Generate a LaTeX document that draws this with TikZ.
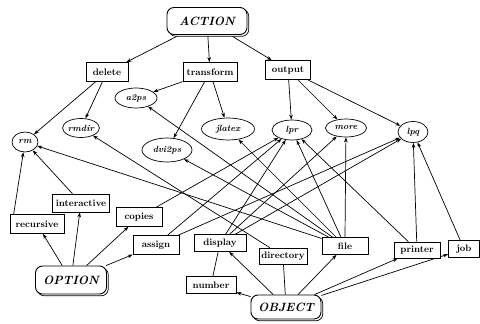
\documentclass[tikz,border=0pt]{standalone}
\usetikzlibrary{arrows.meta,shapes.geometric,shadows,backgrounds}
\begin{document}
\begin{tikzpicture}[x=1pt,y=-1pt,
  every path/.style={line width=0.7pt},
  arr/.style={-{Stealth[length=5pt,width=3.6pt]}},
  plain/.style={-},
  big/.style={draw,rounded corners=7pt,fill=white,line width=0.9pt,
    copy shadow={shadow xshift=1.8pt,shadow yshift=-1.8pt},
    inner sep=0pt,font=\fontsize{12}{14}\selectfont\bfseries\itshape},
  box/.style={draw,fill=white,inner sep=0pt,font=\fontsize{9.5}{10}\selectfont\bfseries},
  ell/.style={draw,ellipse,fill=white,inner sep=0pt,font=\fontsize{9}{10}\selectfont\bfseries\itshape}]
\useasboundingbox (0,0) rectangle (480,324);
% top-level
\node[big,minimum width=80pt,minimum height=27pt] (action) at (207,21) {ACTION};
\node[big,minimum width=71pt,minimum height=28pt] (option) at (71,280) {OPTION};
\node[big,minimum width=70pt,minimum height=24pt] (object) at (286,307) {OBJECT};
% actions
\node[box,minimum width=42pt,minimum height=19pt] (delete) at (107,72) {delete};
\node[box,minimum width=54pt,minimum height=19pt] (transform) at (210,72) {transform};
\node[box,minimum width=45pt,minimum height=19pt] (output) at (288,70) {output};
% commands
\node[ell,minimum width=26pt,minimum height=20pt] (rm) at (25,142) {rm};
\node[ell,minimum width=35pt,minimum height=19pt] (rmdir) at (81,128) {rmdir};
\node[ell,minimum width=42pt,minimum height=20pt] (a2ps) at (136,98) {a2ps};
\node[ell,minimum width=50pt,minimum height=24pt] (dvi2ps) at (167,150) {dvi2ps};
\node[ell,minimum width=53pt,minimum height=22pt] (jlatex) at (228,129) {jlatex};
\node[ell,minimum width=40pt,minimum height=20pt] (lpr) at (292,130) {lpr};
\node[ell,minimum width=41pt,minimum height=18pt] (more) at (346,128) {more};
\node[ell,minimum width=30pt,minimum height=21pt] (lpq) at (413,132) {lpq};
% options
\node[box,minimum width=54pt,minimum height=19pt] (recursive) at (37,224) {recursive};
\node[box,minimum width=57pt,minimum height=18pt] (interactive) at (81,203) {interactive};
\node[box,minimum width=46pt,minimum height=19pt] (copies) at (139,217) {copies};
\node[box,minimum width=46pt,minimum height=19pt] (assign) at (156,245) {assign};
% objects
\node[box,minimum width=52pt,minimum height=17pt] (display) at (220,243) {display};
\node[box,minimum width=50pt,minimum height=17pt] (number) at (211,285) {number};
\node[box,minimum width=48pt,minimum height=16pt] (directory) at (283,256) {directory};
\node[box,minimum width=46pt,minimum height=17pt] (file) at (345,246) {file};
\node[box,minimum width=46pt,minimum height=16pt] (printer) at (417,250) {printer};
\node[box,minimum width=31pt,minimum height=17pt] (job) at (464,249) {job};
\coordinate (rc) at ([xshift=4pt]recursive.north west);
% edges
\begin{scope}[on background layer]
\draw[arr] (action) -- (delete);
\draw[arr] (action) -- (transform);
\draw[arr] (action) -- (output);
\draw[arr] (delete) -- (rm);
\draw[arr] (delete) -- (rmdir);
\draw[arr] (transform) -- (a2ps);
\draw[arr] (transform) -- (dvi2ps);
\draw[arr] (transform) -- (jlatex);
\draw[arr] (output) -- (lpr);
\draw[arr] (output) -- (more);
\draw[arr] (output) -- (lpq);
\draw[arr] (rc) -- (rm);
\draw[arr] (interactive) -- (rm);
\draw[arr] (option) -- (recursive);
\draw[arr] (option) -- (interactive);
\draw[arr] (option) -- (copies);
\draw[arr] (option) -- (assign);
\draw[arr] (copies) -- (lpr);
\draw[arr] (assign) -- (lpr);
\draw[arr] (assign) -- (lpq);
\draw[arr] (display) -- (lpr);
\draw[arr] (display) -- (more);
\draw[arr] (display) -- (lpq);
\draw[arr] (directory) -- (rmdir);
\draw[arr] (file) -- (rm);
\draw[arr] (file) -- (a2ps);
\draw[arr] (file) -- (dvi2ps);
\draw[arr] (file) -- (jlatex);
\draw[arr] (file) -- (lpr);
\draw[arr] (file.north) -- (more);
\draw[arr] (printer) -- (lpr);
\draw[arr] (printer) -- (lpq);
\draw[arr] (job) -- (lpq);
\draw[arr] (object) -- (number);
\draw[arr] (object) -- (display);
\draw[plain] (object) -- (directory);
\draw[arr] (object) -- (file);
\draw[arr] (object) -- (printer);
\draw[arr] (object) -- (job);
\draw[plain] (number) -- (display);
\end{scope}
\end{tikzpicture}
\end{document}
